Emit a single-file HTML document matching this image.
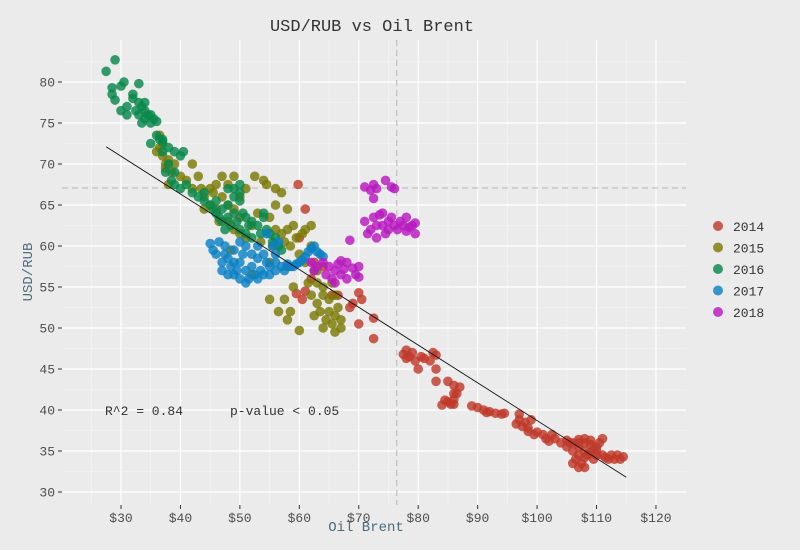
<!DOCTYPE html>
<html><head><meta charset="utf-8"><style>
body{margin:0;background:#ebebeb;}
svg{display:block;font-family:"Liberation Mono","DejaVu Sans Mono",monospace;}
</style></head><body>
<svg id="chart" width="800" height="550">
<rect width="800" height="550" fill="#ebebeb"/>
<g id="grid"></g>
<g id="refs"></g>
<g id="pts"></g>
<g id="axes"></g>
<text x="372" y="31" text-anchor="middle" font-size="17" fill="#333">USD/RUB vs Oil Brent</text>
<text x="366" y="531" text-anchor="middle" font-size="14" fill="#4a6d7c">Oil Brent</text>
<text transform="translate(32,272) rotate(-90)" text-anchor="middle" font-size="14" fill="#4a6d7c">USD/RUB</text>
<text x="105" y="415" font-size="13" fill="#333">R^2 = 0.84</text>
<text x="230" y="415" font-size="13" fill="#333">p-value &lt; 0.05</text>
<g id="legend"></g>
</svg>
<script>
const xTicks=[30,40,50,60,70,80,90,100,110,120];
const yTicks=[30,35,40,45,50,55,60,65,70,75,80];
const years=["2014","2015","2016","2017","2018"];
const colors=["#c0392b","#7a7a05","#08874a","#0b80c5","#b81ac0"];
const refX=76.4, refY=67.07;
const fitStart=[27.5,72.1], fitEnd=[115,31.8];
const d2014=[[104,36],[105,35.5],[105,36.3],[106,35],[106,36],[106.5,34],[107,33],[107,34.5],[107,35.5],[107,36.4],[107.5,33.5],[108,33],[108,34.2],[108,35],[108,36],[108.5,34.5],[109,35.8],[109,34.8],[109.5,35.2],[110,35.5],[110,34.5],[110.5,36],[111,36.5],[111,34.5],[111.5,34.2],[112,34],[112.5,34.5],[113,34],[113.5,34.5],[114,34],[114.5,34.3],[105.5,36],[106,33.5],[107,36],[108,36.5],[109,36.3],[109.5,34],[110,35],[101,37],[101.5,36.5],[102,36.2],[102.5,37],[103,36.5],[100,37.3],[99.5,37],[98.5,37.8],[98,38.5],[97.5,38],[97,38.8],[97,39.5],[96.5,38.3],[98.5,37.4],[99,38.8],[89,40.5],[90,40.3],[91,40],[92,39.8],[93,39.6],[94,39.5],[94.5,39.6],[91.5,39.7],[84,40.6],[84.5,41.2],[85,41],[85.5,40.7],[86,41.3],[86,42],[86.5,42],[86,43],[87,42.8],[85,43.5],[86,40.7],[83,43.5],[83,45],[82,46],[81,46.3],[80,45],[79.5,46],[79,47],[78.5,46.5],[78,47.3],[77.5,46.8],[78,46.3],[80.5,46.5],[82.5,47],[83,46.7],[72.5,48.7],[72.5,51.2],[70.5,53.5],[70,54.3],[69,53],[68.5,52.5],[70,50.5],[66.5,54],[65.5,54],[61,54.5],[60.5,53.5],[59.5,54.2],[62,56],[64,57.5],[58,57.5],[60,61],[61,64.5],[59.8,67.5],[62.5,58]];
const d2015=[[36,71.5],[36.5,72],[37,71],[37.5,70],[38,70.5],[37,72.5],[36.5,73.5],[37.5,69.5],[38.5,69],[39,70],[38,67.5],[40,68.5],[41,68],[42,67],[43,68.5],[43.5,67],[44,66],[45,65],[45,67],[46,64.5],[46,67.5],[47,66],[47,68.5],[48,63],[48,65],[48,67.5],[49,62],[49,64.5],[49,68.5],[50,61.5],[50,63.5],[50,66],[51,67],[51,61],[52,62.5],[53,64],[54,68],[54.5,67.5],[55,63.5],[55.5,60],[56,62],[56,65],[57,66.5],[57,61.5],[57.5,60.5],[58,62],[58,64.5],[58.5,60],[59,62.5],[59.5,61],[60,59],[60.5,61.5],[61,62],[61,58],[62,60],[62.5,57],[62,62.5],[63,55.5],[63,57],[63,53],[63.5,52],[64,54],[64,55],[64.5,51],[64,50],[65,53.5],[65,52],[65.5,55.5],[65.5,50.5],[66,51.5],[66,49.5],[66.5,52.5],[66,54],[67,50],[67,51],[62.5,51.5],[62,54],[61.5,55.5],[59,55],[58.5,52],[57.5,53.5],[58,51],[56.5,52],[55,53.5],[60,49.7],[46.5,63],[45.5,66.5],[42,70],[44,64.5],[52.5,68.5],[53.5,60.5],[56,67],[48.5,59.5],[52,56.5],[55,58]];
const d2016=[[27.5,81.3],[29,82.7],[28.5,79.3],[28.5,78.5],[29,77.8],[30,79.5],[30.5,80],[30,76.5],[31,77],[31,76],[32,78],[32,78.5],[33,79.8],[32.5,76.5],[33,77.5],[33.5,77],[34,76.5],[34,77.5],[34.5,76],[33.5,75],[34,75.5],[35,76],[35.5,75.5],[35,75],[36,75.2],[36,73.5],[36.5,73],[37,72.7],[37,71.5],[38,70],[39,69],[39,71.5],[40,71],[40.5,71.5],[38.5,68],[39,67.5],[40,67],[37.5,69],[41,67.5],[42,66.5],[43,66],[44,65.5],[45,65],[45.5,64.5],[46,64],[46.5,63.5],[47,64.5],[47,63],[48,65],[48,63.5],[48.5,62.5],[49,66],[49,64],[49.5,63],[50,65.5],[50,62],[50.5,64],[51,63.5],[51,61.5],[52,63],[52,61],[53,62.5],[53.5,61.5],[54,64],[54.5,62],[55,61.5],[55.5,60.5],[56,61],[56.5,60],[57,59.5],[48,67],[49,67],[50,67.5],[46,65.5],[44,66.5],[47.5,62],[51.5,62.5],[54,63.5],[50,66.5],[35,72.5],[38,72],[33,76],[37,73]];
const d2017=[[45,60.3],[45.5,59.5],[46,59],[46.5,60.5],[47,58],[47,57],[47.5,60],[48,56.5],[48,58.5],[48.5,57.5],[49,56.5],[49,59.5],[49.5,57],[50,56],[50,58],[50.5,59],[51,57],[51,60],[51.5,56],[52,57.5],[52,59],[52.5,56.5],[53,58.5],[53,60],[53.5,57],[54,56.5],[54,59],[54.5,61.5],[55,57.5],[55,56.5],[55.5,60],[56,57],[56,58],[56.5,60.5],[57,57.5],[57.5,57],[58,57.8],[58.5,57.5],[59,57.5],[59.5,57.8],[60,58],[60.5,58.3],[61,58.7],[61.5,59.3],[62,59.7],[62.5,60],[63,59.3],[63.5,59],[64,58.7],[51,55.5],[53,56],[54.5,58],[56,59],[50,60.5],[47.5,59],[49,58]];
const d2018=[[71,67.2],[72,66.8],[72.5,67.5],[72.5,65.8],[73,67],[74.5,68],[75.5,67.2],[76,67],[71,63],[71.5,61.5],[72,62],[72.5,63.5],[73,62.5],[73,61],[73.5,63.8],[74,62.5],[74,64],[74.5,61.5],[75,63],[75,62],[75.5,63.5],[76,62.5],[76.5,62],[77,63],[77.5,62.5],[78,61.8],[78,63.5],[78.5,62.3],[79,62.5],[79.5,61.5],[79.5,62.8],[68.5,60.7],[62,58],[62.5,57],[63,57.5],[64,58],[64.5,56.5],[65,57.5],[65.5,56],[66,57],[66.5,57.8],[67,56.5],[67.5,57.2],[68,56],[68,58],[69,57.3],[69.5,56.5],[70,57.5],[70,56.2],[66,55.5],[67,58.2]];
const series=[d2014,d2015,d2016,d2017,d2018];
const X0=62,X1=686,Y0=40,Y1=505;
const sx=v=>121+(v-30)*5.944;
const sy=v=>492-(v-30)*8.2;
const NS="http://www.w3.org/2000/svg";
function mk(p,tag,attrs){const e=document.createElementNS(NS,tag);for(const k in attrs)e.setAttribute(k,attrs[k]);p.appendChild(e);return e;}
const grid=document.getElementById('grid');
const bg=mk(grid,'rect',{x:X0,y:Y0,width:X1-X0,height:Y1-Y0,fill:'#ebebeb'});


for(let i=0;i<xTicks.length;i++){const v=xTicks[i];
 const mn=mk(grid,'line',{x1:sx(v-5),x2:sx(v-5),y1:Y0,y2:Y1,stroke:'#f6f6f6','stroke-width':0.6});
 
 
 const l=mk(grid,'line',{x1:sx(v),x2:sx(v),y1:Y0,y2:Y1,stroke:'#fff','stroke-width':1.2});
 
 }
for(const v of yTicks){
 const mn=mk(grid,'line',{x1:X0,x2:X1,y1:sy(v+2.5),y2:sy(v+2.5),stroke:'#f6f6f6','stroke-width':0.6});
 
 
 const l=mk(grid,'line',{x1:X0,x2:X1,y1:sy(v),y2:sy(v),stroke:'#fff','stroke-width':1.2});
 
 }
const refs=document.getElementById('refs');
const rv=mk(refs,'line',{x1:sx(refX),x2:sx(refX),y1:Y0,y2:Y1,stroke:'#b5b5b5','stroke-dasharray':'6,4','stroke-width':1});


const rh=mk(refs,'line',{x1:X0,x2:X1,y1:sy(refY),y2:sy(refY),stroke:'#b5b5b5','stroke-dasharray':'6,4','stroke-width':1});


const pts=document.getElementById('pts');
series.forEach((s,i)=>{const g=mk(pts,'g',{});
 
 
 for(const p of s){const c=mk(g,'circle',{cx:sx(p[0]),cy:sy(p[1]),r:4.8,fill:colors[i],'fill-opacity':0.82});
  
  }});
const fit=mk(pts,'line',{x1:sx(fitStart[0]),y1:sy(fitStart[1]),x2:sx(fitEnd[0]),y2:sy(fitEnd[1]),stroke:'#111','stroke-width':0.9});


const ax=document.getElementById('axes');
for(const v of xTicks){
 const t=mk(ax,'line',{x1:sx(v),x2:sx(v),y1:Y1,y2:Y1+4,stroke:'#333'});
 
 
 const tx=mk(ax,'text',{x:sx(v),y:Y1+17,'text-anchor':'middle','font-size':13,fill:'#4d4d4d'});
 tx.textContent='$'+v;
 
 }
for(const v of yTicks){
 const t=mk(ax,'line',{x1:X0-4,x2:X0,y1:sy(v),y2:sy(v),stroke:'#333'});
 
 
 const tx=mk(ax,'text',{x:X0-7,y:sy(v)+4.5,'text-anchor':'end','font-size':13,fill:'#4d4d4d'});
 tx.textContent=v;
 
 }
const lg=document.getElementById('legend');
years.forEach((y,i)=>{const yy=226+i*21.5;
 const g=mk(lg,'g',{});
 
 
 mk(g,'circle',{cx:718,cy:yy,r:5,fill:colors[i],'fill-opacity':0.82});
 const t=mk(g,'text',{x:733,y:yy+5,'font-size':13,fill:'#333'});
 t.textContent=y;});
</script>
</body></html>
